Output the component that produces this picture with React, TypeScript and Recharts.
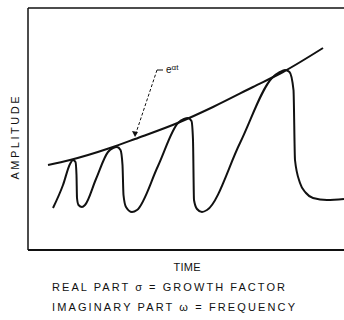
import { LineChart, Line, XAxis, YAxis, ReferenceLine, ReferenceDot } from 'recharts';

// envelope e^(at)
const ENV_T = [20, 42, 82, 107, 152, 185, 225, 255, 295];
const ENV_A = [85, 90, 102, 111, 128, 143, 163, 178, 202];

// growing oscillation
const OSC_T = [
  25, 35, 42, 45, 47.5, 48.5, 49, 50.5, 54, 57, 68,
  80, 85, 89, 92.5, 94.5, 95.5, 98, 104, 109, 130,
  150, 156, 160, 163.5, 165, 166, 169, 174, 179, 212,
  244, 252, 257, 261.5, 265.5, 267, 272, 278, 285, 299, 316,
];
const OSC_A = [
  42, 65, 86, 90, 88, 75, 52, 45, 43, 45, 71,
  98, 102, 103, 100, 85, 55, 43, 38, 40, 84,
  127, 131, 132, 129, 110, 50, 41, 38, 40, 107,
  172, 178, 180, 178, 160, 90, 67, 57, 52, 50, 51,
];

// leader for the e^at callout: label point -> arrow tip on the envelope
const LEADER_T = [129, 107];
const LEADER_A = [180, 114];

const envelope = ENV_T.map((t, i) => ({ t, a: ENV_A[i] }));
const wave = OSC_T.map((t, i) => ({ t, a: OSC_A[i] }));

const INK = '#111';
const FONT = '"Liberation Sans", Arial, sans-serif';

const CalloutLabel = (props: any) => {
  const { cx, cy } = props;
  if (cx == null) return null;
  return (
    <g>
      <line x1={cx} y1={cy} x2={cx + 6} y2={cy} stroke={INK} strokeWidth={1} />
      <text x={cx + 9} y={cy + 3} fontFamily={FONT} fontSize={10} fill={INK}>
        e
        <tspan dy={-3} fontSize={8}>αt</tspan>
      </text>
    </g>
  );
};

const ArrowTip = (props: any) => {
  const { cx, cy } = props;
  if (cx == null) return null;
  return <path d={`M${cx - 3},${cy - 5} L${cx + 3},${cy - 4} L${cx},${cy + 1} Z`} fill={INK} />;
};

export default function App() {
  return (
    <div style={{ position: 'absolute', left: 0, top: 0, width: 344, height: 320, overflow: 'hidden', background: '#fff' }}>
      <LineChart width={346} height={320} margin={{ top: 8, right: 0, left: 28, bottom: 70 }}>
        <XAxis type="number" dataKey="t" domain={[0, 318]} hide />
        <YAxis type="number" dataKey="a" domain={[0, 242]} hide />
        {/* frame: top, left, bottom (right edge runs off the page) */}
        <ReferenceLine y={242} stroke={INK} strokeWidth={1.5} />
        <ReferenceLine y={0} stroke={INK} strokeWidth={2} />
        <ReferenceLine x={0} stroke={INK} strokeWidth={1.5} />
        <ReferenceLine
          segment={[
            { x: LEADER_T[0], y: LEADER_A[0] },
            { x: LEADER_T[1], y: LEADER_A[1] },
          ]}
          stroke={INK}
          strokeWidth={1}
          strokeDasharray="3 2"
        />
        <Line
          data={envelope}
          dataKey="a"
          type="monotone"
          stroke={INK}
          strokeWidth={2}
          dot={false}
          isAnimationActive={false}
        />
        <Line
          data={wave}
          dataKey="a"
          type="monotone"
          stroke={INK}
          strokeWidth={2}
          dot={false}
          isAnimationActive={false}
        />
        <ReferenceDot x={LEADER_T[0]} y={LEADER_A[0]} r={0} shape={<CalloutLabel />} />
        <ReferenceDot x={LEADER_T[1]} y={LEADER_A[1]} r={0} shape={<ArrowTip />} />
        <text x={15} y={138} transform="rotate(-90 15 138)" textAnchor="middle" dominantBaseline="central"
          fontFamily={FONT} fontSize={11} fill={INK} textLength={83} lengthAdjust="spacing">
          AMPLITUDE
        </text>
        <text x={187} y={271} textAnchor="middle" fontFamily={FONT} fontSize={11} fill={INK}
          textLength={27} lengthAdjust="spacing">
          TIME
        </text>
        <text x={52} y={291} fontFamily={FONT} fontSize={11} fill={INK} textLength={233} lengthAdjust="spacing">
          REAL PART σ = GROWTH FACTOR
        </text>
        <text x={52} y={311} fontFamily={FONT} fontSize={11} fill={INK} textLength={243} lengthAdjust="spacing">
          IMAGINARY PART ω = FREQUENCY
        </text>
      </LineChart>
    </div>
  );
}
